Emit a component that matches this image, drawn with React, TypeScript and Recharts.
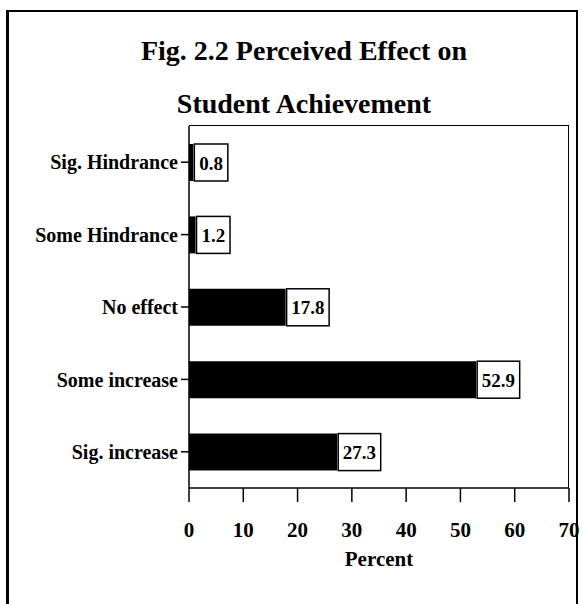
import React from "react";
import { BarChart, Bar, XAxis, YAxis, LabelList } from "recharts";

// values
const categories: string[] = [
  "Sig. Hindrance",
  "Some Hindrance",
  "No effect",
  "Some increase",
  "Sig. increase",
];
const percents: number[] = [0.8, 1.2, 17.8, 52.9, 27.3];
const xTicks: number[] = [0, 10, 20, 30, 40, 50, 60, 70];
const titleLines: string[] = ["Fig. 2.2 Perceived Effect on", "Student Achievement"];

const data = categories.map((name, i) => ({ name, value: percents[i] }));

const FONT = '"Liberation Serif", "Times New Roman", serif';

// plot box (px), used for the frame around the plot
const PLOT = { left: 189, top: 126, right: 569, bottom: 488 };

// white box with the value, sitting at the end of each bar
const BoxLabel = (props: any) => {
  const { x, y, width, height, value } = props;
  const text = Number(value).toFixed(1);
  const em = text.split("").reduce((a, c) => a + (c === "." ? 0.25 : 0.5), 0);
  const w = em * 18 + 11;
  const bx = x + width + 1;
  return (
    <g>
      <rect
        x={bx}
        y={y}
        width={w}
        height={height}
        fill="#fff"
        stroke="#000"
        strokeWidth={1.5}
      />
      <text
        x={bx + w / 2}
        y={y + height / 2 + 7}
        textAnchor="middle"
        fontFamily={FONT}
        fontWeight="bold"
        fontSize={19}
        fill="#000"
      >
        {text}
      </text>
    </g>
  );
};

export default function App() {
  return (
    <div
      style={{
        position: "absolute",
        left: 0,
        top: 0,
        width: 583,
        height: 604,
        background: "#fff",
        overflow: "hidden",
      }}
    >
      {/* outer frame of the figure, runs off the bottom of the page */}
      <div
        style={{
          position: "absolute",
          left: 6,
          top: 10,
          width: 567,
          height: 640,
          borderTop: "2px solid #000",
          borderLeft: "3px solid #000",
          borderRight: "2px solid #000",
        }}
      />
      {/* top and right edges of the plot box */}
      <div
        style={{
          position: "absolute",
          left: PLOT.left,
          top: PLOT.top - 1,
          width: PLOT.right - PLOT.left - 1,
          height: PLOT.bottom - PLOT.top,
          borderTop: "1.5px solid #000",
          borderRight: "1.5px solid #000",
        }}
      />
      <svg
        width={583}
        height={130}
        style={{ position: "absolute", left: 0, top: 0 }}
      >
        {titleLines.map((t, i) => (
          <text
            key={t}
            x={304}
            y={60 + i * 53}
            textAnchor="middle"
            fontFamily={FONT}
            fontWeight="bold"
            fontSize={28}
            fill="#000"
          >
            {t}
          </text>
        ))}
      </svg>
      <div style={{ position: "absolute", left: 0, top: 0 }}>
        <BarChart
          width={583}
          height={604}
          layout="vertical"
          data={data}
          margin={{ top: PLOT.top, right: 583 - PLOT.right, bottom: 40, left: 0 }}
        >
          <XAxis
            type="number"
            domain={[0, 70]}
            ticks={xTicks}
            interval={0}
            height={604 - 40 - PLOT.bottom}
            tickSize={14}
            tickMargin={20}
            axisLine={{ stroke: "#000", strokeWidth: 1.5 }}
            tickLine={{ stroke: "#000", strokeWidth: 1.5 }}
            tick={{
              fill: "#000",
              fontFamily: FONT,
              fontWeight: "bold",
              fontSize: 21,
            }}
            label={{
              value: "Percent",
              position: "insideTop",
              offset: 63,
              fill: "#000",
              fontFamily: FONT,
              fontWeight: "bold",
              fontSize: 21,
            }}
          />
          <YAxis
            type="category"
            dataKey="name"
            width={PLOT.left}
            tickSize={8}
            tickMargin={3}
            interval={0}
            axisLine={{ stroke: "#000", strokeWidth: 1.5 }}
            tickLine={{ stroke: "#000", strokeWidth: 1.5 }}
            tick={{
              fill: "#000",
              fontFamily: FONT,
              fontWeight: "bold",
              fontSize: 20,
            }}
          />
          <Bar dataKey="value" fill="#000" barSize={37} isAnimationActive={false}>
            <LabelList dataKey="value" content={<BoxLabel />} />
          </Bar>
        </BarChart>
      </div>
    </div>
  );
}
